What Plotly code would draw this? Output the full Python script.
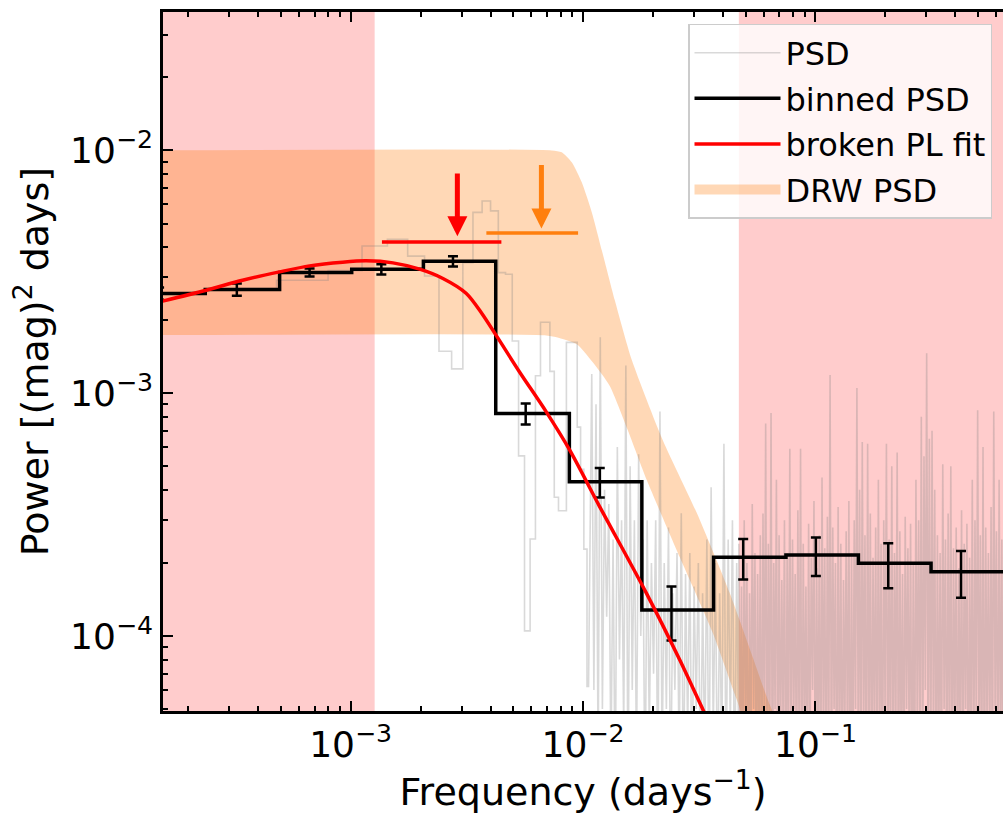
import numpy as np
import plotly.graph_objects as go

# ---------------- data ----------------
# raw periodogram, low-frequency part on a regular grid (k * df)
psd_df = 3.2e-4
psd_low_power = [2.7e-3, 2.92e-3, 3.2e-3, 4.04e-3, 4.31e-3, 3.67e-3, 3.04e-3, 1.49e-3, 1.26e-3, 3.45e-3,
                 5.56e-3, 6.19e-3, 5.64e-3, 3.14e-3, 3.09e-3, 1.64e-3, 5.52e-4, 1.05e-4, 2.51e-4, 1.18e-3,
                 1.96e-3, 1.96e-3, 1.23e-3, 3.73e-4, 3.28e-4, 3.28e-4, 1.62e-3, 1.62e-3, 1.62e-3, 7.25e-4,
                 4.86e-4, 2.28e-4, 6.2e-5]
# raw periodogram, dense high-frequency part: estimated spike tops and troughs
psd_mid_fmin, psd_mid_fmax = 0.0109, 0.0468
psd_mid_peaks = [1.2e-3, 9e-4, 1.7e-3, 4e-4, 3.5e-4, 2.5e-4, 6e-4, 3e-4, 1.3e-3, 5e-4,
                 3e-4, 5.6e-4, 2.5e-4, 3e-4, 2e-4, 3e-4, 8.4e-4, 2e-4, 2.8e-4, 1.5e-4,
                 2.2e-4, 3.2e-4, 1.8e-4, 2.2e-4, 1.6e-4, 2.0e-4, 1.5e-4, 2.5e-4, 4.1e-4, 2e-4,
                 1.5e-4, 6.2e-4, 2.5e-4, 3.0e-4, 2.0e-4]
psd_mid_troughs = [6e-5, 3e-5, 5e-5, 1.2e-4, 3e-5, 2e-5, 8e-5, 4e-5, 2e-5, 6e-5,
                   3e-5, 1e-4, 2e-5, 4e-5, 7e-5, 2e-5, 3e-5, 5e-5, 2e-5, 6e-5,
                   3e-5, 2e-5, 4e-5, 2e-5, 5e-5, 2e-5, 3e-5, 2e-5, 4e-5, 2e-5,
                   3e-5, 2e-5, 4e-5, 2e-5, 3e-5]
psd_high_fmin, psd_high_fmax = 0.0468, 0.659
psd_high_peaks = [2.4e-4, 1.6e-4, 3.0e-4, 2.0e-4, 1.5e-4, 3.5e-4, 2.2e-4, 1.8e-4, 2.6e-4, 3.2e-4,
                  7.5e-4, 2.4e-4, 8.3e-4, 2.0e-4, 4.4e-4, 2.6e-4, 1.7e-4, 3.0e-4, 2.2e-4, 5.9e-4,
                  2.5e-4, 1.8e-4, 3.3e-4, 5.9e-4, 2.4e-4, 1.6e-4, 2.9e-4, 2.1e-4, 3.6e-4, 1.9e-4,
                  2.6e-4, 4.5e-4, 2.3e-4, 3.1e-4, 1.19e-3, 2.8e-4, 2.0e-4, 3.4e-4, 2.4e-4, 1.7e-4,
                  2.7e-4, 3.6e-4, 2.2e-4, 3.0e-4, 1.05e-3, 4.0e-4, 6.3e-4, 2.6e-4, 6.2e-4, 3.2e-4,
                  2.1e-4, 2.8e-4, 4.4e-4, 2.4e-4, 3.0e-4, 6.2e-4, 2.5e-4, 5.0e-4, 2.2e-4, 5.7e-4,
                  2.7e-4, 1.8e-4, 3.1e-4, 2.3e-4, 2.9e-4, 2.0e-4, 4.4e-4, 3.0e-4, 8.0e-4, 5.5e-4,
                  1.46e-3, 6.5e-4, 7.0e-4, 4.0e-4, 2.6e-4, 2.2e-4, 5.1e-4, 2.5e-4, 3.2e-4, 5.0e-4,
                  2.3e-4, 2.8e-4, 1.9e-4, 3.3e-4, 2.4e-4, 2.9e-4, 2.1e-4, 4.4e-4, 3.0e-4, 8.5e-4,
                  2.6e-4, 6.0e-4, 2.8e-4, 2.2e-4, 3.4e-4, 8.4e-4, 2.7e-4, 4.4e-4, 2.5e-4, 3.1e-4]
psd_high_troughs = [3e-5, 2e-5, 4e-5, 1.5e-5, 3e-5, 5e-5, 2e-5, 3e-5, 1.5e-5, 4e-5,
                    2e-5, 3e-5, 1.5e-5, 5e-5, 2e-5, 3e-5, 4e-5, 1.5e-5, 3e-5, 2e-5,
                    5e-5, 2e-5, 3e-5, 1.5e-5, 4e-5, 2e-5, 3e-5, 6e-5, 2e-5, 3e-5,
                    1.5e-5, 4e-5, 2e-5, 3e-5, 2e-5, 5e-5, 1.5e-5, 3e-5, 2e-5, 4e-5,
                    3e-5, 1.5e-5, 2e-5, 5e-5, 3e-5, 2e-5, 4e-5, 1.5e-5, 3e-5, 2e-5,
                    4e-5, 2e-5, 3e-5, 1.5e-5, 5e-5, 2e-5, 3e-5, 2e-5, 4e-5, 1.5e-5,
                    3e-5, 2e-5, 5e-5, 3e-5, 1.5e-5, 2e-5, 4e-5, 3e-5, 2e-5, 6e-5,
                    3e-5, 2e-5, 4e-5, 1.5e-5, 3e-5, 2e-5, 5e-5, 2e-5, 3e-5, 1.5e-5,
                    4e-5, 2e-5, 3e-5, 2e-5, 5e-5, 1.5e-5, 3e-5, 2e-5, 4e-5, 3e-5,
                    2e-5, 1.5e-5, 4e-5, 3e-5, 2e-5, 5e-5, 2e-5, 3e-5, 1.5e-5, 3e-5]

# binned PSD
bin_freq = [1.5e-4, 3.24e-4, 6.66e-4, 1.356e-3, 2.757e-3, 5.665e-3, 1.180e-2, 2.401e-2,
            4.886e-2, 0.1004, 0.2056, 0.4227, 0.87]
bin_power = [2.576e-3, 2.675e-3, 3.143e-3, 3.243e-3, 3.498e-3, 8.25e-4, 4.316e-4, 1.279e-4,
             2.109e-4, 2.156e-4, 1.992e-4, 1.839e-4, 1.84e-4]
bin_err = [1.5e-4, 1.56e-4, 1.21e-4, 1.57e-4, 1.7e-4, 8.2e-5, 6.0e-5, 3.2e-5,
           4.0e-5, 3.9e-5, 4.2e-5, 4.0e-5, 4.0e-5]

# broken power-law fit
fit_freq = [1.506e-4, 2.392e-4, 3.427e-4, 4.948e-4, 6.66e-4, 9.24e-4, 1.169e-3, 1.521e-3,
            1.982e-3, 2.496e-3, 3.147e-3, 3.664e-3, 4.251e-3, 5.339e-3, 6.957e-3, 8.766e-3,
            1.180e-2, 1.875e-2, 2.608e-2, 3.285e-2, 4.074e-2]
fit_power = [2.378e-3, 2.657e-3, 2.921e-3, 3.161e-3, 3.346e-3, 3.465e-3, 3.509e-3, 3.443e-3,
             3.243e-3, 2.970e-3, 2.576e-3, 2.137e-3, 1.718e-3, 1.221e-3, 8.36e-4, 5.83e-4,
             3.406e-4, 1.499e-4, 7.96e-5, 4.958e-5, 3.236e-5]

# DRW PSD band
drw_up_freq = [1.364e-4, 7.334e-3, 8.098e-3, 8.94e-3, 9.87e-3, 1.090e-2, 1.204e-2, 1.369e-2,
               1.621e-2, 2.203e-2, 3.087e-2, 4.28e-2, 6.24e-2, 7.76e-2]
drw_up_power = [1.0e-2, 1.0e-2, 9.83e-3, 8.94e-3, 7.40e-3, 5.57e-3, 3.88e-3, 2.42e-3,
                1.37e-3, 6.41e-4, 3.21e-4, 1.50e-4, 5.45e-5, 3.09e-5]
drw_lo_freq = [1.364e-4, 6.84e-3, 7.70e-3, 9.40e-3, 1.101e-2, 1.303e-2, 1.557e-2, 1.880e-2,
               2.608e-2, 3.616e-2, 4.59e-2, 5.76e-2]
drw_lo_power = [1.734e-3, 1.734e-3, 1.70e-3, 1.59e-3, 1.34e-3, 1.07e-3, 7.05e-4, 4.39e-4,
                2.11e-4, 1.03e-4, 5.45e-5, 3.09e-5]

# excluded frequency ranges
excl_lo = [1e-5, 0.0468]
excl_hi = [1.269e-3, 10.0]

# break-frequency estimates (red: fit, orange: DRW)
brk_freq = [2.879e-3, 6.62e-3]
brk_lo = [1.364e-3, 3.838e-3]
brk_hi = [4.453e-3, 9.52e-3]
brk_level = [4.20e-3, 4.57e-3]
arrow_top = [8.155e-3, 8.83e-3]
arrow_tip = [4.43e-3, 4.77e-3]
brk_colors = ["#ff0000", "#ff7f0e"]

x_major = [1e-3, 1e-2, 1e-1]
x_labels = ["10<sup>−3</sup>", "10<sup>−2</sup>", "10<sup>−1</sup>"]
y_major = [1e-4, 1e-3, 1e-2]
y_labels = ["10<sup>−4</sup>", "10<sup>−3</sup>", "10<sup>−2</sup>"]


def steps_mid(x, y):
    xs, ys = [x[0]], [y[0]]
    for i in range(1, len(x)):
        m = 0.5 * (x[i - 1] + x[i])
        xs += [m, m]
        ys += [y[i - 1], y[i]]
    xs.append(x[-1])
    ys.append(y[-1])
    return xs, ys


def interleave(a, b):
    out = []
    for u, v in zip(a, b):
        out += [u, v]
    return out


FONT = "DejaVu Sans"
fig = go.Figure()

# excluded regions
for a, b in zip(excl_lo, excl_hi):
    fig.add_trace(go.Scatter(x=[a, b, b, a, a], y=[1e-7, 1e-7, 10, 10, 1e-7], mode="lines",
                             fill="toself", fillcolor="rgba(255,0,0,0.2)", line=dict(width=0),
                             showlegend=False, hoverinfo="skip"))

# DRW band
band_x = drw_up_freq + drw_lo_freq[::-1]
band_y = drw_up_power + drw_lo_power[::-1]
fig.add_trace(go.Scatter(x=band_x, y=band_y, mode="lines", fill="toself",
                         fillcolor="rgba(255,127,14,0.3)", line=dict(width=0, shape="spline", smoothing=0.6),
                         showlegend=False, hoverinfo="skip", legendgroup="d"))
# legend swatch for the band
fig.add_trace(go.Scatter(x=[None], y=[None], mode="lines",
                         line=dict(color="rgba(255,127,14,0.3)", width=30),
                         name="DRW PSD", legendrank=4, legendgroup="d"))

# raw PSD
low_f = [psd_df * (k + 1) for k in range(len(psd_low_power))]
sx, sy = steps_mid(low_f, psd_low_power)
mid_p = interleave(psd_mid_peaks, psd_mid_troughs)
high_p = interleave(psd_high_peaks, psd_high_troughs)
mid_f = list(np.geomspace(psd_mid_fmin, psd_mid_fmax, len(mid_p)))
high_f = list(np.geomspace(psd_high_fmin, psd_high_fmax, len(high_p)))
fig.add_trace(go.Scatter(x=sx + mid_f + high_f, y=sy + mid_p + high_p, mode="lines",
                         line=dict(color="rgba(128,128,128,0.3)", width=1.6),
                         name="PSD", legendrank=1, legendgroup="a"))

# binned PSD
bx, by = steps_mid(bin_freq, bin_power)
fig.add_trace(go.Scatter(x=bx, y=by, mode="lines", line=dict(color="black", width=3.5),
                         name="binned PSD", legendrank=2, legendgroup="b"))
fig.add_trace(go.Scatter(x=bin_freq, y=bin_power, mode="markers",
                         marker=dict(size=1, color="rgba(0,0,0,0)"),
                         error_y=dict(type="data", array=bin_err, color="black", thickness=2.5, width=5),
                         showlegend=False, hoverinfo="skip", legendgroup="b"))

# broken power-law fit
fig.add_trace(go.Scatter(x=fit_freq, y=fit_power, mode="lines",
                         line=dict(color="#ff0000", width=3.5, shape="spline", smoothing=0.8),
                         name="broken PL fit", legendrank=3, legendgroup="c"))

# break frequency ranges and arrows
for i in range(len(brk_freq)):
    fig.add_trace(go.Scatter(x=[brk_lo[i], brk_hi[i]], y=[brk_level[i], brk_level[i]], mode="lines",
                             line=dict(color=brk_colors[i], width=3.5), showlegend=False,
                             hoverinfo="skip", legendgroup="e"))
    fig.add_annotation(x=np.log10(brk_freq[i]), y=np.log10(arrow_tip[i]),
                       ax=np.log10(brk_freq[i]), ay=np.log10(arrow_top[i]),
                       xref="x", yref="y", axref="x", ayref="y", text="", showarrow=True,
                       arrowhead=2, arrowwidth=5, arrowsize=0.8, arrowcolor=brk_colors[i])

minor_vals = [m * 10.0 ** e for e in range(-6, 1) for m in range(2, 10)]

axis_common = dict(type="log", showgrid=False, zeroline=False, showline=True, linecolor="black",
                   linewidth=2.5, ticks="inside", ticklen=10, tickwidth=1.8, tickcolor="black",
                   tickmode="array", tickfont=dict(family=FONT, size=36, color="black"))

fig.update_xaxes(**axis_common, range=[-3.8071, -0.1933], tickvals=x_major, ticktext=x_labels,
                 mirror="allticks",
                 minor=dict(tickmode="array", tickvals=minor_vals, ticks="inside", ticklen=5,
                            tickwidth=1.5, tickcolor="black", showgrid=False),
                 title=dict(text="Frequency (days<sup>−1</sup>)", font=dict(family=FONT, size=38, color="black"),
                            standoff=12))
fig.update_yaxes(**axis_common, range=[-4.3088, -1.4298], tickvals=y_major, ticktext=y_labels,
                 mirror=False,
                 minor=dict(tickmode="array", tickvals=minor_vals, ticks="inside", ticklen=5,
                            tickwidth=1.5, tickcolor="black", showgrid=False),
                 title=dict(text="Power [(mag)<sup>2</sup> days]", font=dict(family=FONT, size=38, color="black"),
                            standoff=10))

fig.update_layout(
    width=1003, height=814,
    margin=dict(l=163, r=0, t=12, b=103),
    paper_bgcolor="white", plot_bgcolor="white",
    font=dict(family=FONT, color="black"),
    legend=dict(x=0.625, y=0.983, xanchor="left", yanchor="top",
                bgcolor="rgba(255,255,255,0.8)", bordercolor="#cccccc", borderwidth=1.5,
                font=dict(family=FONT, size=32, color="black"), itemwidth=86,
                traceorder="grouped", tracegroupgap=1),
)

fig.write_html("out.html")
